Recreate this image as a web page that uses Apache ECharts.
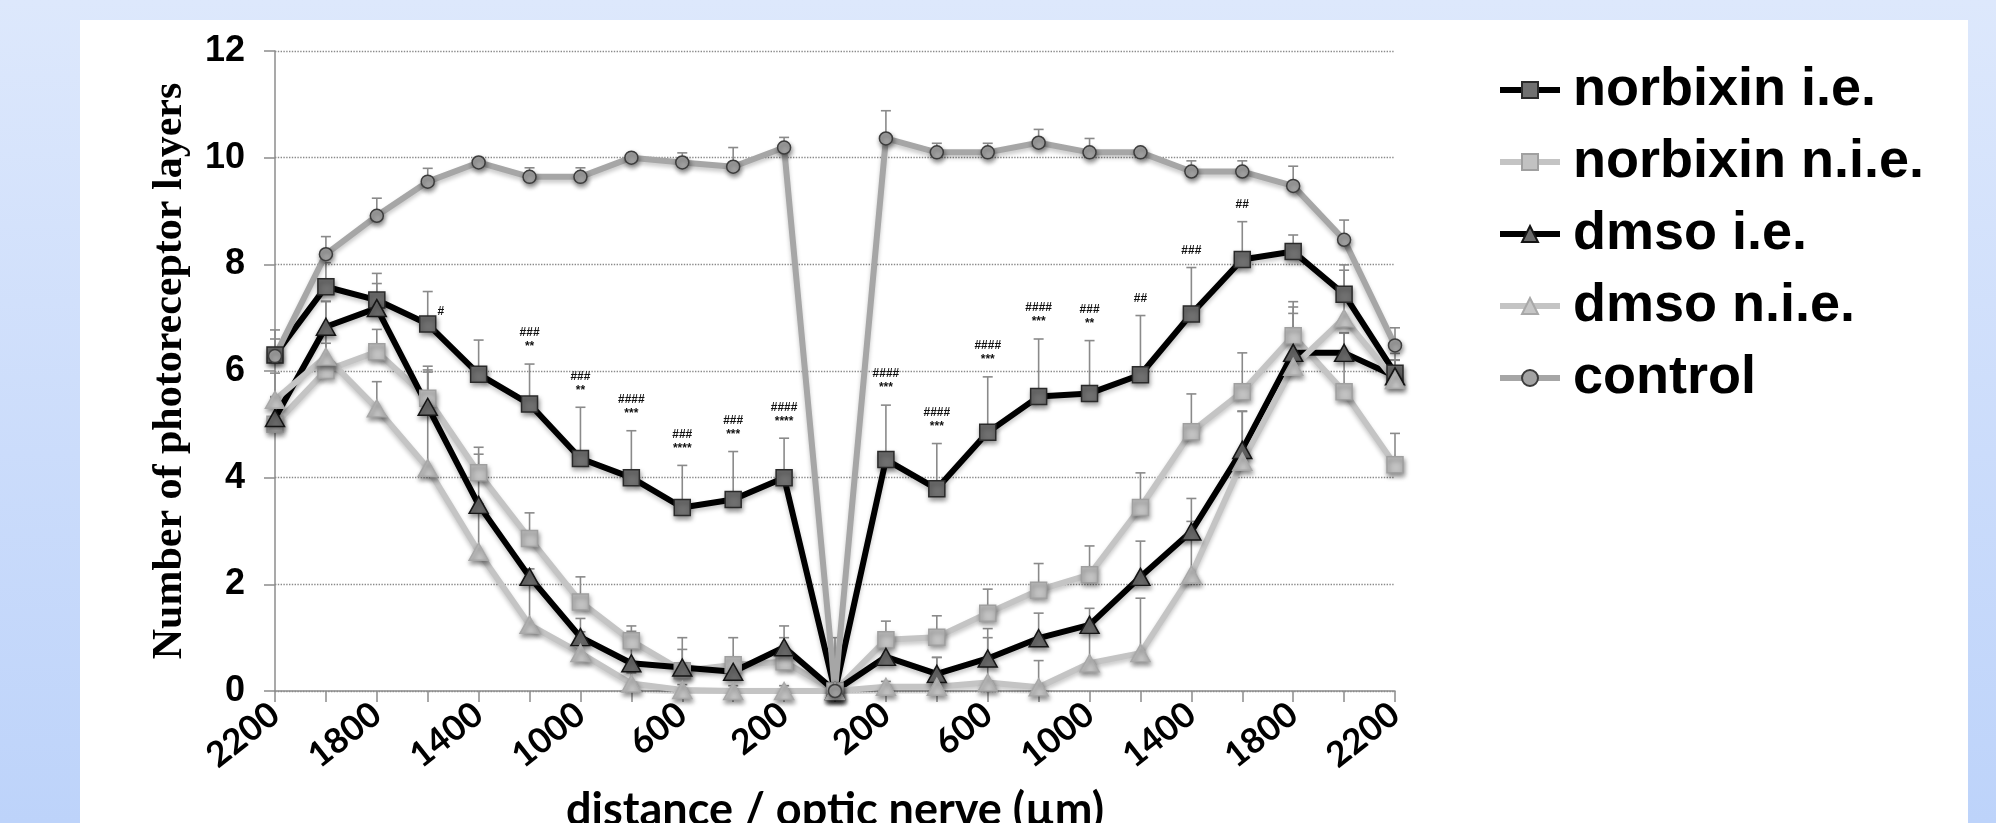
<!DOCTYPE html>
<html>
<head>
<meta charset="utf-8">
<script src="https://cdn.jsdelivr.net/npm/echarts@6/dist/echarts.min.js"></script>
<style>
  html, body {
    margin: 0;
    padding: 0;
    width: 1996px;
    height: 823px;
    overflow: hidden;
    background: linear-gradient(180deg, #dde8fc 0%, #cbdcfb 55%, #bdd3fa 100%);
  }
  #panel {
    position: absolute;
    left: 80px;
    top: 20px;
    width: 1888px;
    height: 803px;
    background: #fff;
  }
</style>
</head>
<body>
<div id="panel"></div>
<script>
  // distance from the optic nerve, left (inferior) to right (superior)
  const categories = ['2200', '2000', '1800', '1600', '1400', '1200', '1000', '800', '600', '400', '200', '0',
    '200', '400', '600', '800', '1000', '1200', '1400', '1600', '1800', '2000', '2200'];

  const norbixinIE = [6.3, 7.58, 7.33, 6.88, 5.94, 5.38, 4.36, 4.0, 3.44, 3.59, 4.0, 0,
    4.34, 3.79, 4.85, 5.52, 5.58, 5.93, 7.07, 8.09, 8.24, 7.44, 5.96];
  const norbixinIEErr = [0.3, 0.45, 0.5, 0.61, 0.64, 0.75, 0.96, 0.88, 0.79, 0.9, 0.74, 0,
    1.02, 0.85, 1.04, 1.08, 0.99, 1.11, 0.87, 0.71, 0.31, 0.55, 0.25];

  const norbixinNIE = [5.0, 6.01, 6.36, 5.49, 4.09, 2.86, 1.67, 0.94, 0.38, 0.49, 0.55, 0,
    0.96, 1.01, 1.46, 1.89, 2.18, 3.44, 4.86, 5.61, 6.66, 5.61, 4.24];
  const norbixinNIEErr = [0.5, 1.3, 0.42, 0.6, 0.48, 0.48, 0.47, 0.28, 0.4, 0.1, 0.45, 0,
    0.35, 0.4, 0.45, 0.5, 0.54, 0.65, 0.71, 0.73, 0.64, 1.1, 0.59];

  const dmsoIE = [5.12, 6.83, 7.18, 5.33, 3.49, 2.14, 1.01, 0.52, 0.44, 0.36, 0.82, 0,
    0.64, 0.32, 0.61, 0.99, 1.24, 2.14, 2.99, 4.52, 6.34, 6.34, 5.9];
  const dmsoIEErr = [0.4, 0.47, 0.46, 0.69, 0.95, 0.15, 0.35, 0.6, 0.56, 0.64, 0.4, 1.0,
    0.46, 0.31, 0.56, 0.47, 0.31, 0.67, 0.62, 0.72, 0.74, 0.38, 0.3];

  const dmsoNIE = [5.46, 6.27, 5.3, 4.18, 2.61, 1.24, 0.71, 0.14, 0.02, 0, 0, 0,
    0.08, 0.08, 0.16, 0.07, 0.52, 0.71, 2.18, 4.3, 6.08, 6.99, 5.83];
  const dmsoNIEErr = [0.5, 0.25, 0.5, 1.8, 0.9, 0.9, 0.4, 0.2, 0.1, 0.1, 0.1, 0,
    0.1, 0.55, 0.84, 0.5, 0.6, 1.03, 1.0, 0.95, 1.12, 0.9, 0.5];

  const control = [6.28, 8.19, 8.91, 9.55, 9.91, 9.64, 9.64, 10.0, 9.91, 9.83, 10.19, 0,
    10.36, 10.1, 10.1, 10.28, 10.1, 10.1, 9.74, 9.74, 9.47, 8.46, 6.48];
  const controlErr = [0.49, 0.33, 0.33, 0.25, 0.05, 0.17, 0.17, 0.05, 0.18, 0.36, 0.19, 0,
    0.52, 0.17, 0.17, 0.25, 0.26, 0.05, 0.2, 0.2, 0.37, 0.37, 0.33];

  // significance marks above the norbixin i.e. error bars
  const signif = ['', '', '', '#', '', '###\n**', '###\n**', '####\n***', '###\n****', '###\n***', '####\n****', '',
    '####\n***', '####\n***', '####\n***', '####\n***', '###\n**', '##', '###', '##', '', '', ''];

  const chart = echarts.init(document.getElementById('panel'));

  function errData(values, errs) {
    return values.map(function (v, i) { return [i, v, errs[i]]; });
  }

  function errorBar(params, api) {
    const e = api.value(2);
    if (!(e > 0)) return;
    const i = api.value(0), v = api.value(1);
    const base = api.coord([i, v]);
    const top = api.coord([i, v + e]);
    const style = {stroke: '#8a8a8a', lineWidth: 1.6};
    return {
      type: 'group',
      children: [
        {type: 'line', shape: {x1: base[0], y1: base[1], x2: top[0], y2: top[1]}, style: style},
        {type: 'line', shape: {x1: top[0] - 5, y1: top[1], x2: top[0] + 5, y2: top[1]}, style: style}
      ]
    };
  }

  function signifLabel(params, api) {
    const txt = signif[params.dataIndex];
    if (!txt) return;
    const i = api.value(0);
    const top = api.coord([i, api.value(1) + api.value(2)]);
    const single = txt === '#';
    return {
      type: 'text',
      x: single ? top[0] + 13 : top[0],
      y: single ? top[1] + 20 : top[1] - 10,
      style: {
        text: txt,
        fill: '#111',
        fontFamily: 'Liberation Sans',
        fontWeight: 'bold',
        fontSize: 12,
        lineHeight: 14,
        align: 'center',
        verticalAlign: single ? 'middle' : 'bottom'
      }
    };
  }

  const shadow = {shadowBlur: 5, shadowColor: 'rgba(0,0,0,0.45)', shadowOffsetX: 1, shadowOffsetY: 3};
  const lineShadow = {shadowBlur: 4, shadowColor: 'rgba(0,0,0,0.22)', shadowOffsetY: 3};

  function lineSeries(name, data, lineColor, symbol, size, fill, border) {
    return {
      name: name,
      type: 'line',
      data: data,
      smooth: false,
      symbol: symbol,
      symbolSize: size,
      z: 3,
      lineStyle: Object.assign({color: lineColor, width: 6}, lineShadow),
      itemStyle: Object.assign({color: fill, borderColor: border, borderWidth: 1.5}, shadow)
    };
  }

  function barSeries(values, errs) {
    return {
      type: 'custom',
      renderItem: errorBar,
      data: errData(values, errs),
      z: 2,
      silent: true
    };
  }

  chart.setOption({
    animation: false,
    grid: {left: 195, top: 31, width: 1120, height: 640, containLabel: false, outerBoundsMode: 'none'},
    legend: {
      orient: 'vertical',
      left: 1412,
      top: 38,
      itemWidth: 60,
      itemHeight: 20,
      itemGap: 18,
      data: ['norbixin i.e.', 'norbixin n.i.e.', 'dmso i.e.', 'dmso n.i.e.', 'control'],
      lineStyle: {width: 6},
      textStyle: {
        fontFamily: 'Liberation Sans',
        fontWeight: 'bold',
        fontSize: 54,
        color: '#000',
        padding: [0, 0, 0, 8]
      }
    },
    xAxis: {
      type: 'category',
      data: categories,
      boundaryGap: false,
      axisLine: {lineStyle: {color: '#8c8c8c', width: 1.5}},
      axisTick: {show: true, interval: 0, length: 11, lineStyle: {color: '#8c8c8c', width: 1.5}},
      axisLabel: {
        interval: 1,
        rotate: 38,
        margin: 19,
        color: '#000',
        fontFamily: 'Lato',
        fontWeight: 'bold',
        fontSize: 35
      },
      name: 'distance / optic nerve (\u00b5m)',
      nameLocation: 'middle',
      nameGap: 97,
      nameTextStyle: {color: '#000', fontFamily: 'Lato', fontWeight: 'bold', fontSize: 45}
    },
    yAxis: {
      type: 'value',
      min: 0,
      max: 12,
      interval: 2,
      axisLine: {show: true, lineStyle: {color: '#8c8c8c', width: 1.5}},
      axisTick: {show: true, length: 11, lineStyle: {color: '#8c8c8c', width: 1.5}},
      splitLine: {lineStyle: {type: 'dotted', color: '#8a8a8a', width: 1.4}},
      axisLabel: {
        margin: 30,
        color: '#000',
        fontFamily: 'Liberation Sans',
        fontWeight: 'bold',
        fontSize: 36
      },
      name: 'Number of photoreceptor layers',
      nameLocation: 'middle',
      nameGap: 84,
      nameTextStyle: {color: '#000', fontFamily: 'Liberation Serif', fontWeight: 'bold', fontSize: 42}
    },
    series: [
      barSeries(norbixinIE, norbixinIEErr),
      barSeries(norbixinNIE, norbixinNIEErr),
      barSeries(dmsoIE, dmsoIEErr),
      barSeries(dmsoNIE, dmsoNIEErr),
      barSeries(control, controlErr),
      lineSeries('norbixin i.e.', norbixinIE, '#000000', 'rect', 16, '#707070', '#2a2a2a'),
      lineSeries('norbixin n.i.e.', norbixinNIE, '#c4c4c4', 'rect', 16, '#c2c2c2', '#a0a0a0'),
      lineSeries('dmso i.e.', dmsoIE, '#000000', 'triangle', [19, 17], '#6b6b6b', '#151515'),
      lineSeries('dmso n.i.e.', dmsoNIE, '#c4c4c4', 'triangle', [19, 17], '#c6c6c6', '#a8a8a8'),
      lineSeries('control', control, '#a6a6a6', 'circle', 13, '#a3a3a3', '#3c3c3c'),
      {
        type: 'custom',
        renderItem: signifLabel,
        data: errData(norbixinIE, norbixinIEErr),
        z: 4,
        silent: true
      }
    ]
  });
</script>
</body>
</html>
